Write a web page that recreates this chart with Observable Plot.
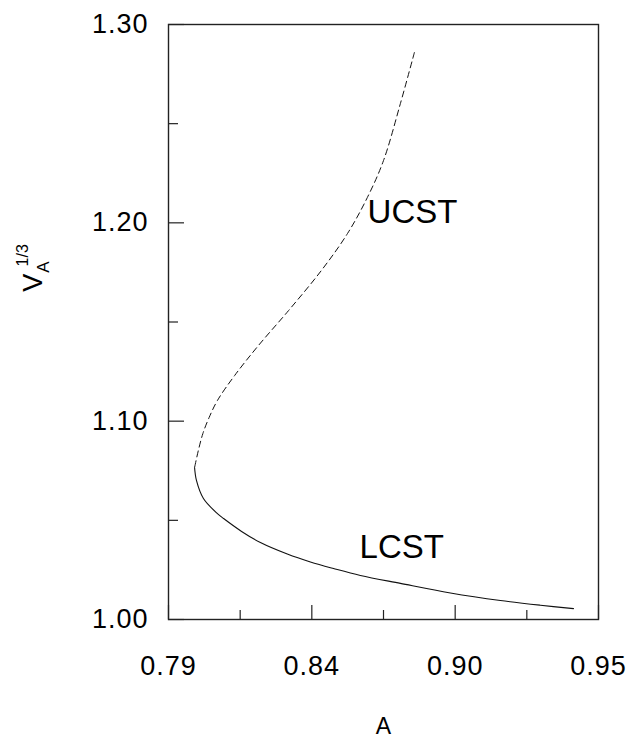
<!DOCTYPE html>
<html>
<head>
<meta charset="utf-8">
<script src="https://cdn.jsdelivr.net/npm/d3@7"></script>
<script src="https://cdn.jsdelivr.net/npm/@observablehq/plot@0.6"></script>
<style>
  html, body { margin: 0; padding: 0; background: #fff; }
  #chart { width: 629px; height: 740px; }
</style>
</head>
<body>
<div id="chart"></div>
<script>
// ---- data ----
// UCST branch (dashed), from top to the turning point
const ucstA = [0.8815, 0.8763, 0.8700, 0.8640, 0.8566, 0.8469, 0.8347, 0.8235, 0.8146, 0.8082, 0.8051, 0.8028, 0.8011, 0.7997];
const ucstV = [1.2859, 1.2602, 1.2314, 1.2128, 1.1946, 1.1760, 1.1558, 1.1382, 1.1230, 1.1104, 1.1018, 1.0938, 1.0852, 1.0766];
// LCST branch (solid), from the turning point to the right
const lcstA = [0.7997, 0.8004, 0.8030, 0.8082, 0.8105, 0.8172, 0.8242, 0.8342, 0.8428, 0.8514, 0.8614, 0.8763, 0.8949, 0.9135, 0.9284, 0.9407];
const lcstV = [1.0766, 1.0701, 1.0610, 1.0534, 1.0509, 1.0444, 1.0388, 1.0330, 1.0290, 1.0257, 1.0222, 1.0182, 1.0134, 1.0096, 1.0072, 1.0055];

// axis ticks
const xDomain = [0.79, 0.95];
const yDomain = [1.00, 1.30];
const xMajorTicks = [0.79, 0.84333, 0.89667, 0.95];
const xTickLabels = ["0.79", "0.84", "0.90", "0.95"];
const xMinorTicks = [0.81667, 0.87, 0.92333];
const yMajorTicks = [1.00, 1.10, 1.20, 1.30];
const yTickLabels = ["1.00", "1.10", "1.20", "1.30"];
const yMinorTicks = [1.05, 1.15, 1.25];

// curve labels
const curveLabels = ["UCST", "LCST"];
const curveLabelA = [0.8808, 0.8768];
const curveLabelV = [1.2052, 1.0363];

const xAxisLabel = "A";

// ---- build tables ----
const ucst = ucstA.map((a, i) => ({a, v: ucstV[i]}));
const lcst = lcstA.map((a, i) => ({a, v: lcstV[i]}));
const xLab = xMajorTicks.map((t, i) => ({t, label: xTickLabels[i]}));
const yLab = yMajorTicks.map((t, i) => ({t, label: yTickLabels[i]}));
const cLab = curveLabels.map((label, i) => ({label, a: curveLabelA[i], v: curveLabelV[i]}));

const W = 629, H = 740;
const mL = 168, mR = 31, mT = 24, mB = 121;
const innerW = W - mL - mR, innerH = H - mT - mB;
const font = "'Liberation Sans', Arial, Helvetica, sans-serif";

const plot = Plot.plot({
  width: W,
  height: H,
  marginLeft: mL,
  marginRight: mR,
  marginTop: mT,
  marginBottom: mB,
  style: {fontFamily: font, background: "#fff", color: "#000"},
  x: {domain: xDomain, axis: null},
  y: {domain: yDomain, axis: null},
  marks: [
    // inward ticks
    Plot.tickX(xMajorTicks, {x: d => d, insetTop: innerH - 14, stroke: "#222", strokeWidth: 1.2}),
    Plot.tickX(xMinorTicks, {x: d => d, insetTop: innerH - 9, stroke: "#222", strokeWidth: 1.2}),
    Plot.tickY(yMajorTicks, {y: d => d, insetRight: innerW - 16, stroke: "#222", strokeWidth: 1.2}),
    Plot.tickY(yMinorTicks, {y: d => d, insetRight: innerW - 10, stroke: "#222", strokeWidth: 1.2}),
    Plot.frame({stroke: "#222", strokeWidth: 1.4}),
    // curves
    Plot.line(ucst, {x: "a", y: "v", curve: "catmull-rom", stroke: "#111", strokeWidth: 1, strokeDasharray: "6,4"}),
    Plot.line(lcst, {x: "a", y: "v", curve: "catmull-rom", stroke: "#111", strokeWidth: 1.1}),
    // curve labels
    Plot.text(cLab, {x: "a", y: "v", text: "label", fontSize: 33, textAnchor: "middle", lineAnchor: "middle", fill: "#000"}),
    // tick labels
    Plot.text(xLab, {x: "t", text: "label", frameAnchor: "bottom", dy: 36, lineAnchor: "top", textAnchor: "middle", fontSize: 27, fill: "#000"}),
    Plot.text(yLab, {y: "t", text: "label", frameAnchor: "left", dx: -20, lineAnchor: "middle", textAnchor: "end", fontSize: 27, fill: "#000"}),
    // x axis label
    Plot.text([xAxisLabel], {text: d => d, frameAnchor: "bottom", dy: 114, lineAnchor: "bottom", textAnchor: "middle", fontSize: 23, fill: "#000"})
  ]
});

const svg = d3.select(plot);
// slight letter spacing on tick labels, as in the reference
svg.selectAll("text").filter(function() { return /^[01]\.\d\d$/.test(this.textContent); }).attr("letter-spacing", 1);

// y axis label with subscript and superscript
const yl = svg.append("text")
  .attr("transform", "translate(42,268) rotate(-90)")
  .attr("text-anchor", "middle")
  .attr("font-family", font)
  .attr("font-size", 27)
  .attr("fill", "#000");
yl.append("tspan").text("V");
yl.append("tspan").attr("font-size", 17).attr("dy", 7).attr("dx", 1).text("A");
yl.append("tspan").attr("font-size", 16).attr("dy", -21).attr("dx", -5).text("1/3");

document.getElementById("chart").appendChild(plot);
</script>
</body>
</html>
